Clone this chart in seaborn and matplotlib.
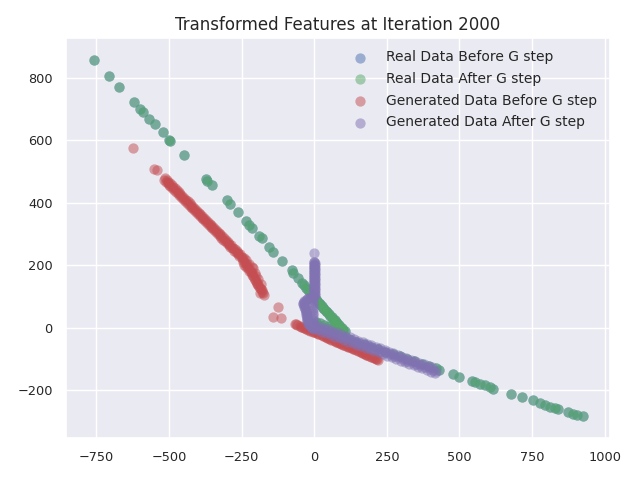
import matplotlib
matplotlib.use("Agg")
import matplotlib.pyplot as plt
import seaborn as sns

# ---- data ----
real_x = [-757, -707, -671, -621, -600, -591, -568, -549, -522, -499, -496, -448,
          -374, -368, -353, -302, -290, -264, -235, -226, -216, -189, -181, -155,
          -141, -112, -76, -74, -55, -43, -30, -15, 0, 10, 20, 30, 40, 50, 60, 70,
          80, 90, 100,
          -37, -22, -8, 5, 15, 25, 35, 45, 55, 65, 75, 85, 95, 105,
          5, 20, 35, 50, 65, 80, 95,
          20, 45, 70, 95, 120, 145, 170, 195, 220, 245, 270, 295, 320, 345, 370,
          395, 420, 430, 479, 499, 542, 553, 571, 588, 605, 614, 676, 716, 752,
          777, 794, 812, 829, 840, 875, 892, 903, 924]
real_y = [857, 807, 770, 723, 700, 692, 668, 653, 627, 602, 599, 553,
          476, 470, 457, 410, 397, 370, 342, 330, 319, 294, 287, 258,
          244, 215, 185, 177, 158, 143, 128, 112, 96, 86, 75, 64, 54, 44, 34, 24,
          14, 4, -6,
          136, 120, 104, 91, 80, 70, 59, 49, 39, 29, 19, 9, -1, -10,
          18, 14, 10, 6, 2, -3, -8,
          -6, -14, -22, -29, -37, -45, -53, -60, -68, -76, -84, -91, -99, -107, -115,
          -122, -130, -135, -148, -158, -169, -174, -180, -183, -190, -195, -212, -222, -231,
          -242, -247, -252, -257, -261, -270, -276, -279, -283]

gen_before_x = [-623, -552, -541,
                -517, -505, -495, -483, -470, -458, -445, -432, -420, -408, -395,
                -382, -370, -357, -345, -332, -320, -307, -295, -283, -270, -258,
                -511, -500, -489, -476, -464, -451, -438, -426, -414, -401, -388,
                -376, -363, -351, -338, -326, -313, -301, -289, -276, -264,
                -514, -508, -502, -497, -491, -486, -480, -474, -467, -461, -455,
                -448, -442, -436, -429, -423, -417, -411, -404, -398, -392, -386,
                -379, -373, -367, -360, -354, -348, -341, -335, -329, -323, -317,
                -310, -304, -298, -292, -286, -279, -273, -267, -261, -255, -248,
                -242, -236,
                -250, -245, -239, -233, -227, -221, -216, -210, -204, -198, -193,
                -187, -181, -176, -188, -200, -212,
                -246, -241, -236, -230, -224, -219, -213, -207, -201, -196, -190,
                -184, -179, -174, -185, -195, -205, -215, -225,
                -124, -143, -116,
                -66, -50, -35, -20, -5, 10, 25, 40, 55, 70, 85, 100, 115, 130, 145,
                160, 175, 190, 205, 220,
                -58, -43, -28, -13, 3, 18, 33, 48, 63, 78, 93, 108, 123, 138, 153,
                168, 183, 198, 213,
                -62, -46, -31, -16, -1, 14, 29, 44, 59, 74, 89, 104, 119, 134, 149,
                164, 179, 194, 209, 216]
gen_before_y = [575, 508, 505,
                474, 463, 453, 442, 430, 418, 406, 394, 383, 372, 359,
                347, 336, 324, 312, 300, 289, 277, 265, 254, 242, 230,
                468, 458, 448, 435, 424, 412, 400, 388, 377, 365, 353,
                341, 329, 318, 306, 294, 282, 271, 260, 247, 236,
                478, 473, 467, 462, 457, 452, 446, 441, 434, 428, 423,
                416, 410, 405, 398, 393, 387, 381, 375, 369, 363, 358,
                351, 346, 340, 333, 328, 322, 316, 310, 304, 299, 293,
                286, 281, 275, 269, 264, 257, 252, 246, 240, 235, 228,
                222, 217,
                224, 218, 207, 203, 191, 185, 175, 165, 153, 145, 137,
                128, 121, 111, 112, 165, 190,
                212, 200, 195, 198, 182, 178, 170, 158, 150, 140, 132,
                124, 116, 104, 140, 155, 175, 195, 205,
                68, 36, 31,
                12, 6, 0, -6, -12, -18, -24, -30, -36, -42, -48, -54, -60, -66, -72,
                -78, -84, -90, -96, -102,
                9, 3, -3, -9, -15, -21, -27, -33, -39, -45, -51, -57, -63, -69, -75,
                -81, -87, -93, -99,
                11, 4, -2, -8, -14, -20, -26, -32, -38, -44, -50, -56, -62, -68, -74,
                -80, -86, -92, -98, -100]

gen_after_x = [0, -1, -1, 0, -1, 0, -1, 0, -1, 0, -1, 0, -1, 0, -2, -5, -20, -35,
               -38, -32, -28, -26, -24, -18, -10,
               -2, -2, -2, -2, -2, -2, -2, -2, -2, -2, -2, -2, -2, -2,
               2, 2, 2, 2, 2, 2, 2, 2, 2, 2, 2, 2, 2, 2,
               -10, -15, -25, -30, -36, -38, -36, -34, -32, -30, -28, -27, -26,
               -25, -24, -22, -20, -16, -12, -6,
               -5, -5, -5, -5, -5, -5, -5, -5, -5, -5, -5, -5, -5,
               -10, 5, 20, 35, 50, 65, 80, 95, 110, 125, 140, 155, 170, 185, 200,
               215, 230, 245, 260, 275, 290, 305, 320, 335, 350, 365, 380, 395, 410,
               420,
               -3, 12, 27, 42, 57, 72, 87, 102, 117, 132, 147, 162, 177, 192, 207,
               222, 237, 252, 267, 282, 297, 312, 327, 342, 357, 372, 387, 402, 415,
               2, 17, 32, 47, 62, 77, 92, 107, 122, 137, 152, 167, 182, 197, 212,
               227, 242, 257, 272, 287, 302, 317, 332, 347, 362, 377, 392, 407]
gen_after_y = [239, 212, 204, 196, 188, 180, 172, 164, 156, 148, 140, 132, 124, 116,
               108, 100, 95, 85, 75, 62, 50, 38, 25, 12, 5,
               210, 202, 194, 186, 178, 170, 162, 154, 146, 138, 130, 122, 114, 106,
               208, 200, 192, 184, 176, 168, 160, 152, 144, 136, 128, 120, 112, 104,
               100, 96, 92, 88, 84, 78, 72, 66, 60, 54, 48, 42, 36,
               30, 24, 18, 12, 8, 4, 2,
               96, 88, 80, 72, 64, 56, 48, 40, 32, 24, 16, 8, 0,
               7, 2, -3, -8, -13, -18, -23, -28, -33, -39, -44, -49, -54, -59, -64,
               -69, -74, -79, -84, -90, -95, -100, -105, -110, -115, -120, -125, -130,
               -135, -139,
               -3, -8, -13, -18, -23, -28, -34, -39, -44, -49, -54, -59, -64, -69, -74,
               -79, -85, -90, -95, -100, -105, -110, -115, -120, -125, -130, -136, -141,
               -145,
               10, 5, 0, -5, -10, -15, -20, -25, -30, -36, -41, -46, -51, -56, -61,
               -66, -71, -76, -81, -87, -92, -97, -102, -107, -112, -117, -122, -127]

labels = ["Real Data Before G step", "Real Data After G step",
          "Generated Data Before G step", "Generated Data After G step"]
title = "Transformed Features at Iteration 2000"

# ---- style ----
sns.set_theme(style="darkgrid")
plt.rcParams["font.family"] = ["DejaVu Sans"]
plt.rcParams["xtick.labelsize"] = 9.3
plt.rcParams["ytick.labelsize"] = 9.3
plt.rcParams["legend.fontsize"] = 10

colors = ["#4C72B0", "#55A868", "#C44E52", "#8172B2"]

fig, ax = plt.subplots(figsize=(6.4, 4.8), dpi=100)
fig.subplots_adjust(left=0.103, right=0.953, top=0.921, bottom=0.088)

series = [(real_x, real_y), (real_x, real_y),
          (gen_before_x, gen_before_y), (gen_after_x, gen_after_y)]
for (xs, ys), c, lab in zip(series, colors, labels):
    sns.scatterplot(x=xs, y=ys, color=c, alpha=0.5, s=55, linewidth=0,
                    label=lab, ax=ax)

ax.set_xlim(-855, 1018)
ax.set_ylim(-352, 928)
ax.set_xticks([-750, -500, -250, 0, 250, 500, 750, 1000])
ax.set_yticks([-200, 0, 200, 400, 600, 800])
ax.set_title(title, fontsize=12)
ax.legend(loc="upper right", frameon=False, scatterpoints=1,
          labelspacing=0.55, handletextpad=0.9)

fig.savefig("out.png", dpi=100)
